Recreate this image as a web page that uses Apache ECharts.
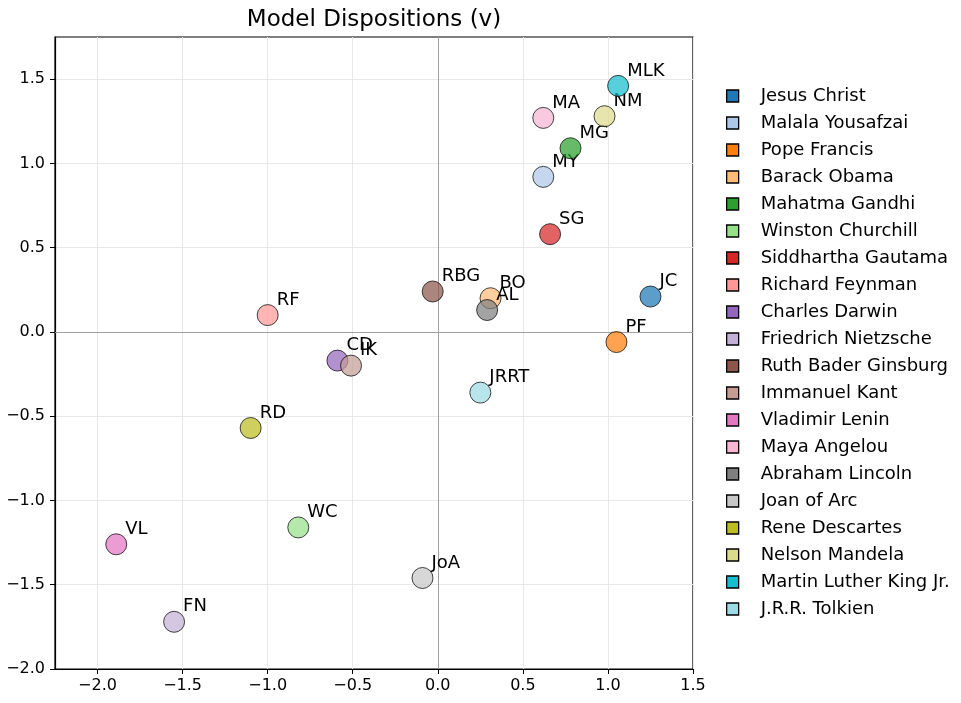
<!DOCTYPE html>
<html>
<head>
<meta charset="utf-8">
<script src="https://cdn.jsdelivr.net/npm/echarts@6/dist/echarts.min.js"></script>
<style>
  html, body { margin: 0; padding: 0; background: #fff; }
  #chart { width: 961px; height: 703px; }
</style>
</head>
<body>
<div id="chart"></div>
<script>
// Figures and their short tags
const names = ["Jesus Christ", "Malala Yousafzai", "Pope Francis", "Barack Obama", "Mahatma Gandhi",
  "Winston Churchill", "Siddhartha Gautama", "Richard Feynman", "Charles Darwin", "Friedrich Nietzsche",
  "Ruth Bader Ginsburg", "Immanuel Kant", "Vladimir Lenin", "Maya Angelou", "Abraham Lincoln",
  "Joan of Arc", "Rene Descartes", "Nelson Mandela", "Martin Luther King Jr.", "J.R.R. Tolkien"];
const tags = ["JC", "MY", "PF", "BO", "MG", "WC", "SG", "RF", "CD", "FN",
  "RBG", "IK", "VL", "MA", "AL", "JoA", "RD", "NM", "MLK", "JRRT"];

// Projected coordinates
const xVals = [1.25, 0.62, 1.05, 0.31, 0.78, -0.82, 0.66, -1.00, -0.59, -1.55,
  -0.03, -0.51, -1.89, 0.62, 0.29, -0.09, -1.10, 0.98, 1.06, 0.25];
const yVals = [0.21, 0.92, -0.06, 0.20, 1.09, -1.16, 0.58, 0.10, -0.17, -1.72,
  0.24, -0.20, -1.26, 1.27, 0.13, -1.46, -0.57, 1.28, 1.46, -0.36];

// Tick positions
const xTicks = [-2.0, -1.5, -1.0, -0.5, 0.0, 0.5, 1.0, 1.5];
const yTicks = [-2.0, -1.5, -1.0, -0.5, 0.0, 0.5, 1.0, 1.5];

const palette = ["#1f77b4", "#aec7e8", "#ff7f0e", "#ffbb78", "#2ca02c", "#98df8a", "#d62728", "#ff9896",
  "#9467bd", "#c5b0d5", "#8c564b", "#c49c94", "#e377c2", "#f7b6d2", "#7f7f7f", "#c7c7c7",
  "#bcbd22", "#dbdb8d", "#17becf", "#9edae5"];

const FONT = "DejaVu Sans";
const ALPHA = 0.72;

function withAlpha(hex, a) {
  const r = parseInt(hex.slice(1, 3), 16);
  const g = parseInt(hex.slice(3, 5), 16);
  const b = parseInt(hex.slice(5, 7), 16);
  return `rgba(${r},${g},${b},${a})`;
}

const series = names.map((name, i) => ({
  name: name,
  type: "scatter",
  data: [[xVals[i], yVals[i]]],
  symbol: "circle",
  symbolSize: 21,
  itemStyle: {
    color: withAlpha(palette[i], ALPHA),
    opacity: 1,
    borderColor: `rgba(0,0,0,${ALPHA})`,
    borderWidth: 1
  },
  label: {
    show: true,
    formatter: tags[i],
    position: [20, 5],
    align: "left",
    verticalAlign: "bottom",
    color: "#000",
    fontFamily: FONT,
    fontSize: 18
  },
  emphasis: { disabled: true },
  z: 3 + i
}));

// Zero reference lines
series[0].markLine = {
  silent: true,
  symbol: "none",
  label: { show: false },
  lineStyle: { color: "#a0a0a0", width: 1, type: "solid" },
  data: [{ xAxis: 0 }, { yAxis: 0 }],
  z: 1
};

const chart = echarts.init(document.getElementById("chart"), null, { renderer: "canvas" });
chart.setOption({
  animation: false,
  backgroundColor: "#fff",
  title: {
    text: "Model Dispositions (v)",
    left: 369,
    top: 4,
    textAlign: "center",
    textStyle: { fontFamily: FONT, fontSize: 23, fontWeight: "normal", color: "#000" }
  },
  legend: {
    orient: "vertical",
    left: 721,
    top: 82,
    itemWidth: 12,
    itemHeight: 12,
    itemGap: 9,
    icon: "rect",
    itemStyle: { opacity: 1, borderColor: "#000", borderWidth: 1.3 },
    textStyle: { fontFamily: FONT, fontSize: 18, color: "#000", lineHeight: 18, padding: [0, 0, 0, 17] },
    data: names.map((n, i) => ({ name: n, itemStyle: { color: palette[i] } }))
  },
  grid: {
    left: 55,
    top: 37,
    right: 268,
    bottom: 34,
    show: true,
    borderColor: "#000",
    borderWidth: 1.2,
    containLabel: false
  },
  xAxis: {
    type: "value",
    min: -2.25,
    max: 1.5,
    axisLine: { show: true, onZero: false, lineStyle: { color: "#000", width: 1.2 } },
    axisTick: { show: true, length: 5, inside: false, customValues: xTicks, lineStyle: { color: "#000" } },
    axisLabel: {
      customValues: xTicks,
      margin: 9,
      fontFamily: FONT,
      fontSize: 16,
      color: "#000",
      formatter: v => (v < 0 ? "\u2212" : "") + Math.abs(v).toFixed(1)
    },
    splitLine: { show: true, lineStyle: { color: "#e8e8e8", width: 1 } }
  },
  yAxis: {
    type: "value",
    min: -2.0,
    max: 1.75,
    axisLine: { show: true, onZero: false, lineStyle: { color: "#000", width: 1.2 } },
    axisTick: { show: true, length: 5, inside: false, customValues: yTicks, lineStyle: { color: "#000" } },
    axisLabel: {
      customValues: yTicks,
      margin: 10,
      fontFamily: FONT,
      fontSize: 16,
      color: "#000",
      formatter: v => (v < 0 ? "\u2212" : "") + Math.abs(v).toFixed(1)
    },
    splitLine: { show: true, lineStyle: { color: "#e8e8e8", width: 1 } }
  },
  series: series
});
</script>
</body>
</html>
